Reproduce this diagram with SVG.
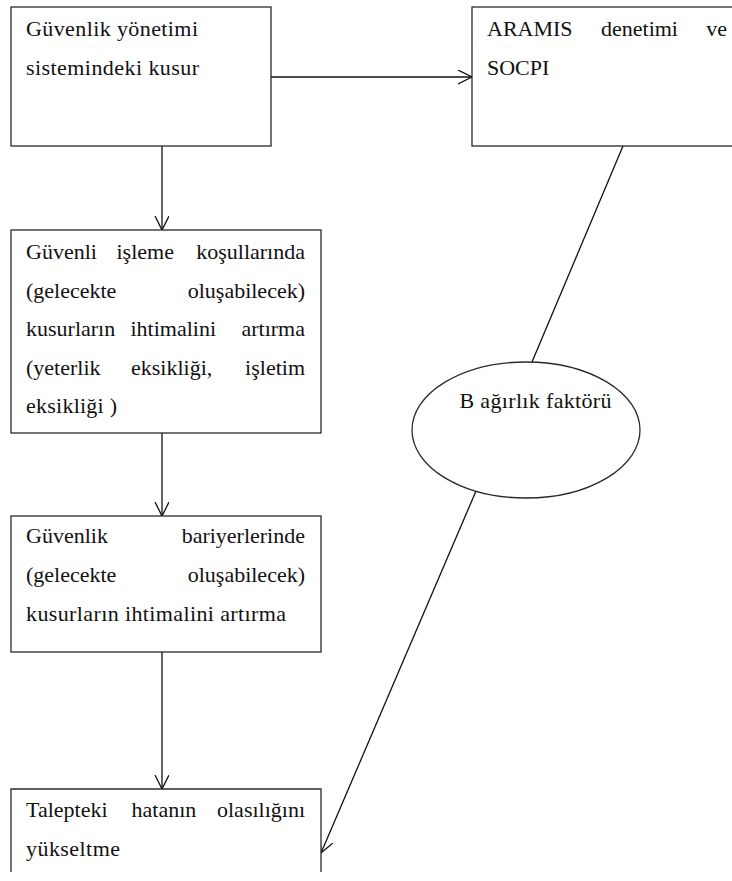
<svg xmlns="http://www.w3.org/2000/svg" width="732" height="881" viewBox="0 0 732 881">
  <style>
    .box { fill: #ffffff; stroke: #2a2a2a; stroke-width: 1.3; }
    .edge { fill: none; stroke: #111111; stroke-width: 1.3; }
    .t { font-family: 'Liberation Serif', 'DejaVu Serif', serif; font-size: 22px; fill: #111111; }
    .end { text-anchor: end; }
    .mid { text-anchor: middle; }
  </style>
  <defs>
    <marker id="open-arrow" markerUnits="userSpaceOnUse" markerWidth="16" markerHeight="16" refX="14" refY="7" orient="auto">
      <path d="M0,0 L14,7 L0,14" fill="none" stroke="#111111" stroke-width="1.3"/>
    </marker>
  </defs>

  <rect width="732" height="881" fill="#ffffff"/>

  <!-- connectors -->
  <g id="connectors">
    <line class="edge" x1="271" y1="77" x2="472" y2="77" marker-end="url(#open-arrow)"/>
    <line class="edge" x1="162" y1="146" x2="162" y2="230" marker-end="url(#open-arrow)"/>
    <line class="edge" x1="162" y1="433" x2="162" y2="516" marker-end="url(#open-arrow)"/>
    <line class="edge" x1="162" y1="652" x2="162" y2="789" marker-end="url(#open-arrow)"/>
    <line class="edge" x1="623" y1="146" x2="532" y2="362"/>
    <line class="edge" x1="476" y1="491" x2="321" y2="853" marker-end="url(#open-arrow)"/>
  </g>

  <!-- safety management system defect -->
  <g id="node-yonetim" class="t" font-family="Liberation Serif, serif">
    <rect class="box" x="11" y="7" width="260" height="139"/>
    <text x="26" y="35.5" textLength="172" lengthAdjust="spacing">Güvenlik yönetimi</text>
    <text x="26" y="74.5" textLength="173" lengthAdjust="spacing">sistemindeki kusur</text>
  </g>

  <!-- ARAMIS audit and SOCPI -->
  <g id="node-aramis" class="t" font-family="Liberation Serif, serif">
    <rect class="box" x="472" y="7" width="270" height="139"/>
    <text x="487" y="35.5">ARAMIS</text>
    <text x="601" y="35.5">denetimi</text>
    <text class="end" x="727" y="35.5">ve</text>
    <text x="487" y="74.5">SOCPI</text>
  </g>

  <!-- operating conditions -->
  <g id="node-kosullar" class="t" font-family="Liberation Serif, serif">
    <rect class="box" x="11" y="230" width="310" height="203"/>
    <text x="26" y="259">Güvenli</text>
    <text x="116.5" y="259">işleme</text>
    <text class="end" x="305" y="259">koşullarında</text>
    <text x="26" y="297.5">(gelecekte</text>
    <text class="end" x="305" y="297.5">oluşabilecek)</text>
    <text x="26" y="336">kusurların</text>
    <text x="130.5" y="336">ihtimalini</text>
    <text class="end" x="305" y="336">artırma</text>
    <text x="26" y="374.5">(yeterlik</text>
    <text x="131" y="374.5">eksikliği,</text>
    <text class="end" x="305" y="374.5">işletim</text>
    <text x="26" y="413" textLength="91" lengthAdjust="spacing">eksikliği )</text>
  </g>

  <!-- safety barriers -->
  <g id="node-bariyer" class="t" font-family="Liberation Serif, serif">
    <rect class="box" x="11" y="516" width="310" height="136"/>
    <text x="26" y="543">Güvenlik</text>
    <text class="end" x="305" y="543">bariyerlerinde</text>
    <text x="26" y="582">(gelecekte</text>
    <text class="end" x="305" y="582">oluşabilecek)</text>
    <text x="26" y="621" textLength="260" lengthAdjust="spacing">kusurların ihtimalini artırma</text>
  </g>

  <!-- failure on demand -->
  <g id="node-talep" class="t" font-family="Liberation Serif, serif">
    <path class="box" d="M11,872 V789 H321 V872"/>
    <text x="26" y="817">Talepteki</text>
    <text x="131.5" y="817">hatanın</text>
    <text class="end" x="305" y="817">olasılığını</text>
    <text x="26" y="856" textLength="94" lengthAdjust="spacing">yükseltme</text>
  </g>

  <!-- weighting factor B -->
  <g id="node-agirlik" class="t" font-family="Liberation Serif, serif">
    <ellipse class="box" cx="526" cy="430" rx="114" ry="68"/>
    <text class="mid" x="535.5" y="408" textLength="152" lengthAdjust="spacing">B ağırlık faktörü</text>
  </g>
</svg>
